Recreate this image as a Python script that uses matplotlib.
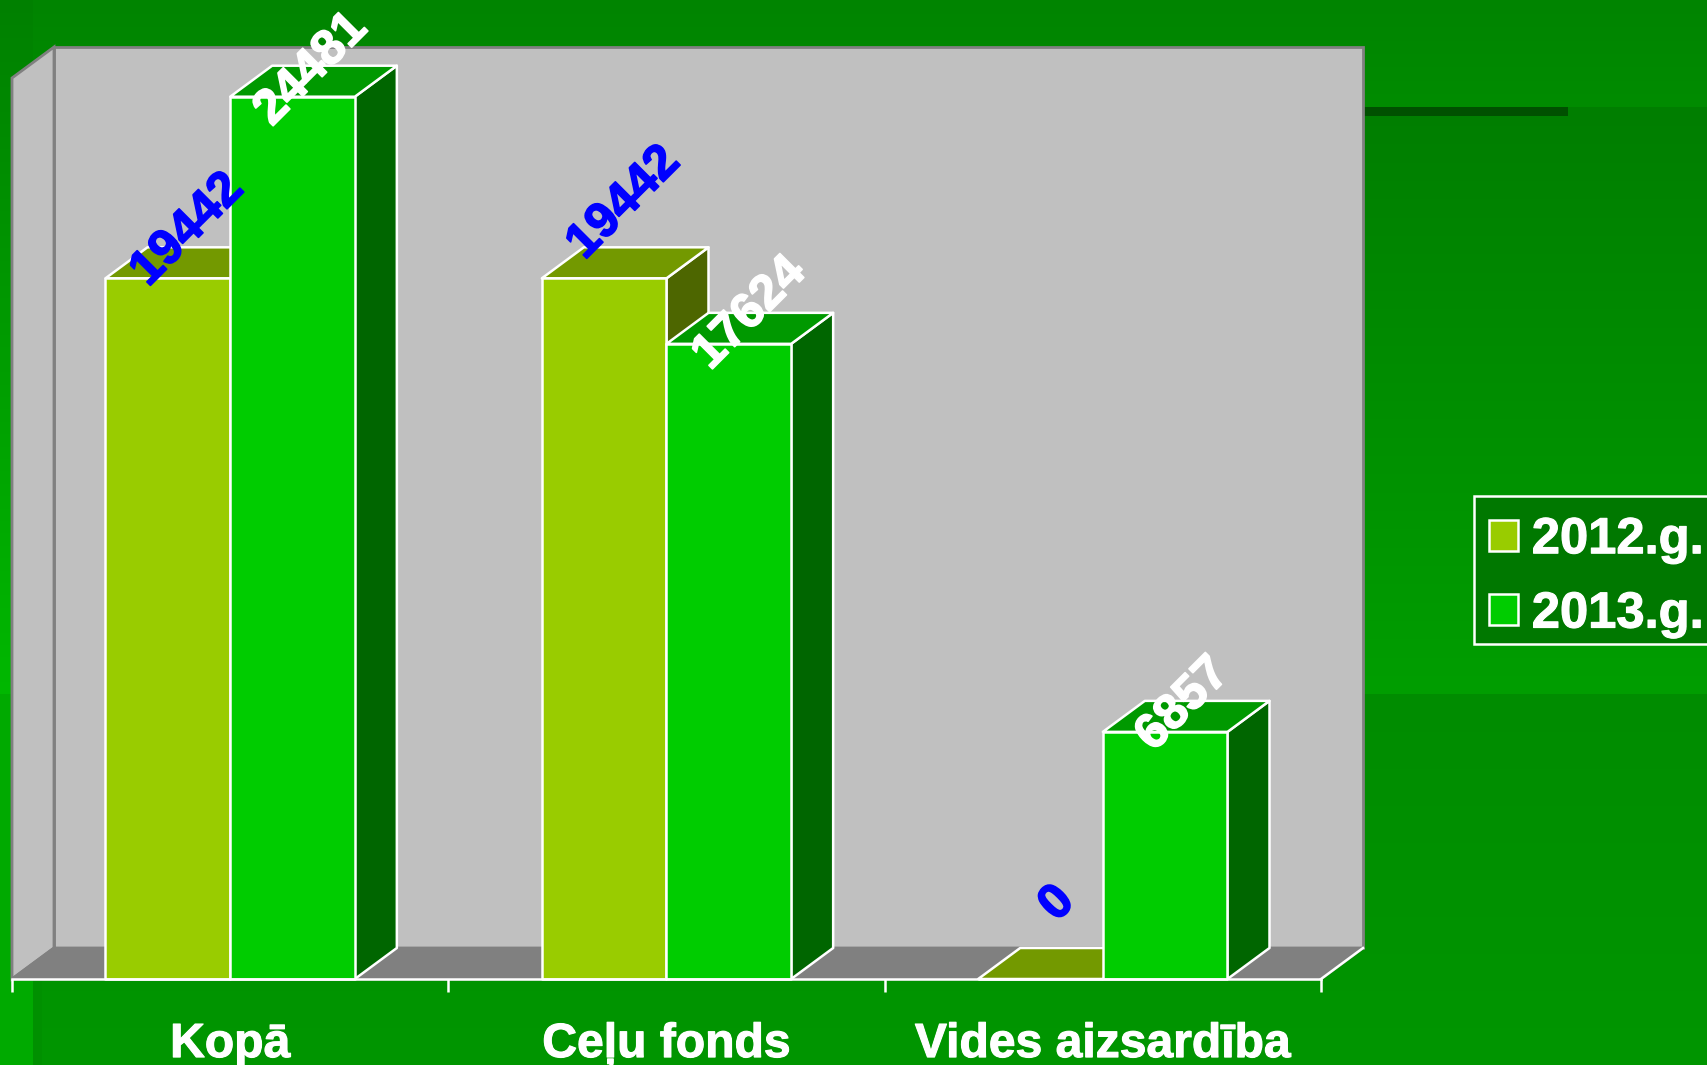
import matplotlib
matplotlib.use("Agg")
import matplotlib.pyplot as plt
import matplotlib.patheffects as pe
from matplotlib.patches import Polygon, Patch, Rectangle
import numpy as np

plt.rcParams['font.family'] = ['Liberation Sans', 'DejaVu Sans']
plt.rcParams['font.weight'] = 'bold'

categories = ["Kopā", "Ceļu fonds", "Vides aizsardība"]
series_names = ["2012.g.", "2013.g."]
values_2012 = [19442, 19442, 0]
values_2013 = [24481, 17624, 6857]

W, H = 1708, 1065
Y_MAX = 25000

# label offsets from the bar top, in pixels
offsets_2012 = [(20, 48), (20, 75), (17, 75)]
offsets_2013 = [(19, 27), (21, 30), (18, 27)]

fig = plt.figure(figsize=(W / 100, H / 100), dpi=100)


def background():
    g = np.zeros((H, W))
    yy = np.arange(H)
    left = np.where(yy < 694, 128 + (184 - 128) * yy / 694, 170)
    right = np.where(yy < 107, 132 + 8 * yy / 107,
                     np.where(yy < 694, 126 + 32 * (yy - 107) / 587,
                              140 + 10 * (yy - 694) / 371))
    g[:, :33] = left[:, None]
    g[:, 33:] = right[:, None]
    g[979:, 33:42] = 144
    rgb = np.zeros((H, W, 3), dtype=np.uint8)
    rgb[..., 1] = g.astype(np.uint8)
    rgb[107:116, 1364:1568] = (0, 80, 0)
    return rgb


bg = fig.add_axes([0, 0, 1, 1])
bg.imshow(background(), extent=[0, W, H, 0], aspect='auto', interpolation='nearest')
bg.axis('off')

ax = fig.add_axes([12 / W, (H - 979) / H, 1309 / W, 901 / H])
ax.patch.set_alpha(0)
ax.set_xlim(0, 3)
ax.set_ylim(0, Y_MAX)

# depth of the fake 3d, in data units
dx = 42 / 1309 * 3
dy = 31 / 901 * Y_MAX
bar_w = 1 / 3.5

# walls and floor
wall = dict(edgecolor='#808080', linewidth=2, clip_on=False, zorder=1, joinstyle='miter')
ax.add_patch(Polygon([(dx, dy), (3 + dx, dy), (3 + dx, Y_MAX + dy), (dx, Y_MAX + dy)],
                     facecolor='#C0C0C0', **wall))
ax.add_patch(Polygon([(0, 0), (dx, dy), (dx, Y_MAX + dy), (0, Y_MAX)],
                     facecolor='#C0C0C0', **wall))
ax.add_patch(Polygon([(0, 0), (3, 0), (3 + dx, dy), (dx, dy)],
                     facecolor='#808080', **wall))
ax.plot([3, 3 + dx], [0, dy], color='white', lw=1.8, clip_on=False, zorder=1.5)


def bar3d(xs, vals, front, top, side, z):
    for i, (x, v) in enumerate(zip(xs, vals)):
        zz = z + i * 3
        style = dict(edgecolor='white', linewidth=1.8, clip_on=False, joinstyle='round')
        ax.add_patch(Polygon([(x + bar_w, 0), (x + bar_w + dx, dy), (x + bar_w + dx, v + dy), (x + bar_w, v)],
                             facecolor=side, zorder=zz, **style))
        ax.add_patch(Polygon([(x, v), (x + bar_w, v), (x + bar_w + dx, v + dy), (x + dx, v + dy)],
                             facecolor=top, zorder=zz + 1, **style))
        ax.bar(x, v, bar_w, align='edge', color=front, zorder=zz + 2, **style)


centers = np.arange(len(categories)) + 0.5
bar3d(centers - bar_w, values_2012, '#99CC00', '#739900', '#4D6600', 3)
bar3d(centers, values_2013, '#00CC00', '#009900', '#006600', 4)

# value labels
for xs, vals, offs, col in [(centers - bar_w / 2, values_2012, offsets_2012, '#0000FF'),
                            (centers + bar_w / 2, values_2013, offsets_2013, 'white')]:
    for x, v, off in zip(xs, vals, offs):
        ax.annotate(str(v), (x, v), xytext=off, textcoords='offset pixels', color=col,
                    fontsize=35.5, fontweight='bold', rotation=45, rotation_mode='anchor',
                    ha='center', va='center', zorder=30, annotation_clip=False,
                    path_effects=[pe.withStroke(linewidth=1.2, foreground=col)])

# axis
for s in ['top', 'left', 'right']:
    ax.spines[s].set_visible(False)
ax.spines['bottom'].set_color('white')
ax.spines['bottom'].set_linewidth(1.8)
ax.spines['bottom'].set_zorder(25)
ax.set_yticks([])
ax.set_xticks(range(len(categories) + 1))
ax.set_xticklabels([])
ax.set_xticks(centers, categories, minor=True)
ax.tick_params(axis='x', which='major', color='white', width=1.8, length=9.4)
ax.tick_params(axis='x', which='minor', length=0, pad=31, labelsize=34.6, labelcolor='white')
for lab in ax.get_xticklabels(minor=True):
    lab.set_path_effects([pe.withStroke(linewidth=0.8, foreground='white')])

# legend, frame drawn separately so the rows can sit lower in it
fig.add_artist(Rectangle((1474 / W, 1 - 644 / H), 260 / W, 148 / H, transform=fig.transFigure,
                         facecolor='#007800', edgecolor='white', linewidth=1.8, zorder=4))
handles = [Patch(facecolor='#99CC00', edgecolor='white', linewidth=1.8, label=series_names[0]),
           Patch(facecolor='#00CC00', edgecolor='white', linewidth=1.8, label=series_names[1])]
leg = fig.legend(handles=handles, loc='upper left', bbox_to_anchor=(1474 / W, 1 - 500.5 / H),
                 borderaxespad=0, borderpad=0.29, fontsize=36.5, labelcolor='white',
                 handlelength=0.58, handleheight=0.58, handletextpad=0.27, labelspacing=0.5,
                 frameon=False)
for t in leg.get_texts():
    t.set_path_effects([pe.withStroke(linewidth=0.8, foreground='white')])

fig.savefig("out.png", dpi=100)
